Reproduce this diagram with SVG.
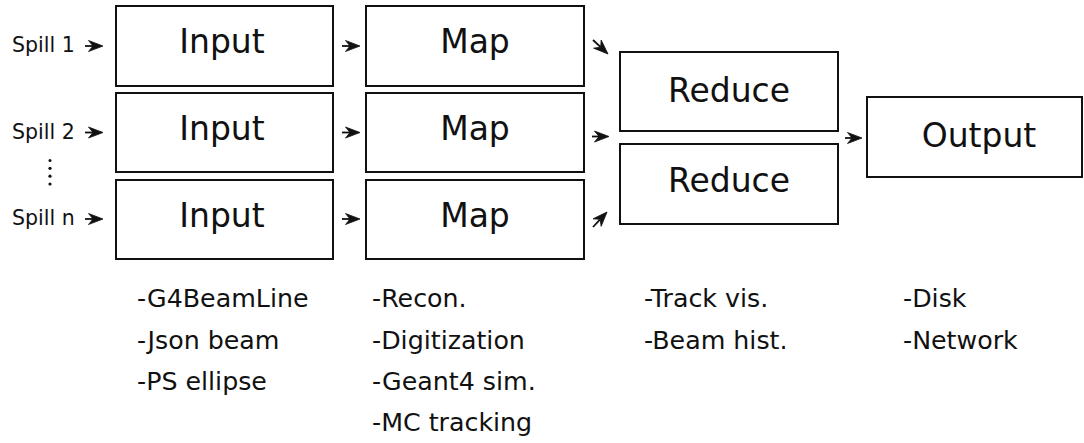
<svg xmlns="http://www.w3.org/2000/svg" width="1084" height="443" viewBox="0 0 1084 443">
<style>
.box{fill:#fff;stroke:#111;stroke-width:2}
.lbl{font-family:"DejaVu Sans",sans-serif;font-size:33px;fill:#111;text-anchor:middle}
.spill{font-family:"DejaVu Sans",sans-serif;font-size:20.5px;fill:#111}
.note{font-family:"DejaVu Sans",sans-serif;font-size:25.3px;fill:#111}
.arr{stroke:#111;stroke-width:1.8;fill:none;marker-end:url(#ah)}
</style>
<defs>
<marker id="ah" markerUnits="userSpaceOnUse" markerWidth="20" markerHeight="20" refX="0" refY="0" orient="auto" overflow="visible">
<path d="M10,0 L-4.5,-5.5 L0,0 L-4.5,5.5 Z" fill="#111" stroke="#111" stroke-width="0.8" stroke-linejoin="round"/>
</marker>
</defs>
<rect width="1084" height="443" fill="#fff"/>
<g id="spills">
<text class="spill" x="12" y="52">Spill 1</text>
<text class="spill" x="12" y="138.5">Spill 2</text>
<text class="spill" x="12" y="225">Spill n</text>
<circle cx="50" cy="160.5" r="1.5" fill="#111"/>
<circle cx="50" cy="168.3" r="1.6" fill="#111"/>
<circle cx="50" cy="176.2" r="1.6" fill="#111"/>
<circle cx="50" cy="184" r="1.6" fill="#111"/>
</g>
<g id="input1"><rect class="box" x="116" y="6" width="217" height="80"/><text class="lbl" x="222" y="53">Input</text></g>
<g id="input2"><rect class="box" x="116" y="93" width="217" height="79"/><text class="lbl" x="222" y="140">Input</text></g>
<g id="input3"><rect class="box" x="116" y="180" width="217" height="79"/><text class="lbl" x="222" y="226.5">Input</text></g>
<g id="map1"><rect class="box" x="366" y="6" width="218" height="80"/><text class="lbl" x="475" y="53">Map</text></g>
<g id="map2"><rect class="box" x="366" y="93" width="218" height="79"/><text class="lbl" x="475" y="140">Map</text></g>
<g id="map3"><rect class="box" x="366" y="180" width="218" height="79"/><text class="lbl" x="475" y="226.5">Map</text></g>
<g id="reduce1"><rect class="box" x="620" y="52" width="218" height="79"/><text class="lbl" x="729" y="102">Reduce</text></g>
<g id="reduce2"><rect class="box" x="620" y="144" width="218" height="80"/><text class="lbl" x="729" y="192">Reduce</text></g>
<g id="output"><rect class="box" x="867" y="97" width="215" height="80"/><text class="lbl" x="979" y="147">Output</text></g>
<g id="connectors">
<line class="arr" x1="85" y1="46" x2="93" y2="46"/>
<line class="arr" x1="85" y1="132.5" x2="93" y2="132.5"/>
<line class="arr" x1="85" y1="219" x2="93" y2="219"/>
<line class="arr" x1="342" y1="46" x2="350" y2="46"/>
<line class="arr" x1="342" y1="132.5" x2="350" y2="132.5"/>
<line class="arr" x1="342" y1="219" x2="350" y2="219"/>
<line class="arr" x1="593" y1="40" x2="600.7" y2="47.2"/>
<line class="arr" x1="592" y1="136.5" x2="599" y2="136.5"/>
<line class="arr" x1="593" y1="227" x2="600.2" y2="219.3"/>
<line class="arr" x1="845" y1="138" x2="852" y2="138"/>
</g>
<g id="notes">
<text class="note" x="137" y="307">-G4BeamLine</text>
<text class="note" x="137" y="348.5">-Json beam</text>
<text class="note" x="137" y="390">-PS ellipse</text>
<text class="note" x="372" y="307">-Recon.</text>
<text class="note" x="372" y="348.5">-Digitization</text>
<text class="note" x="372" y="390">-Geant4 sim.</text>
<text class="note" x="372" y="431">-MC tracking</text>
<text class="note" x="644" y="307">-Track vis.</text>
<text class="note" x="644" y="348.5">-Beam hist.</text>
<text class="note" x="903" y="307">-Disk</text>
<text class="note" x="903" y="348.5">-Network</text>
</g>
</svg>
